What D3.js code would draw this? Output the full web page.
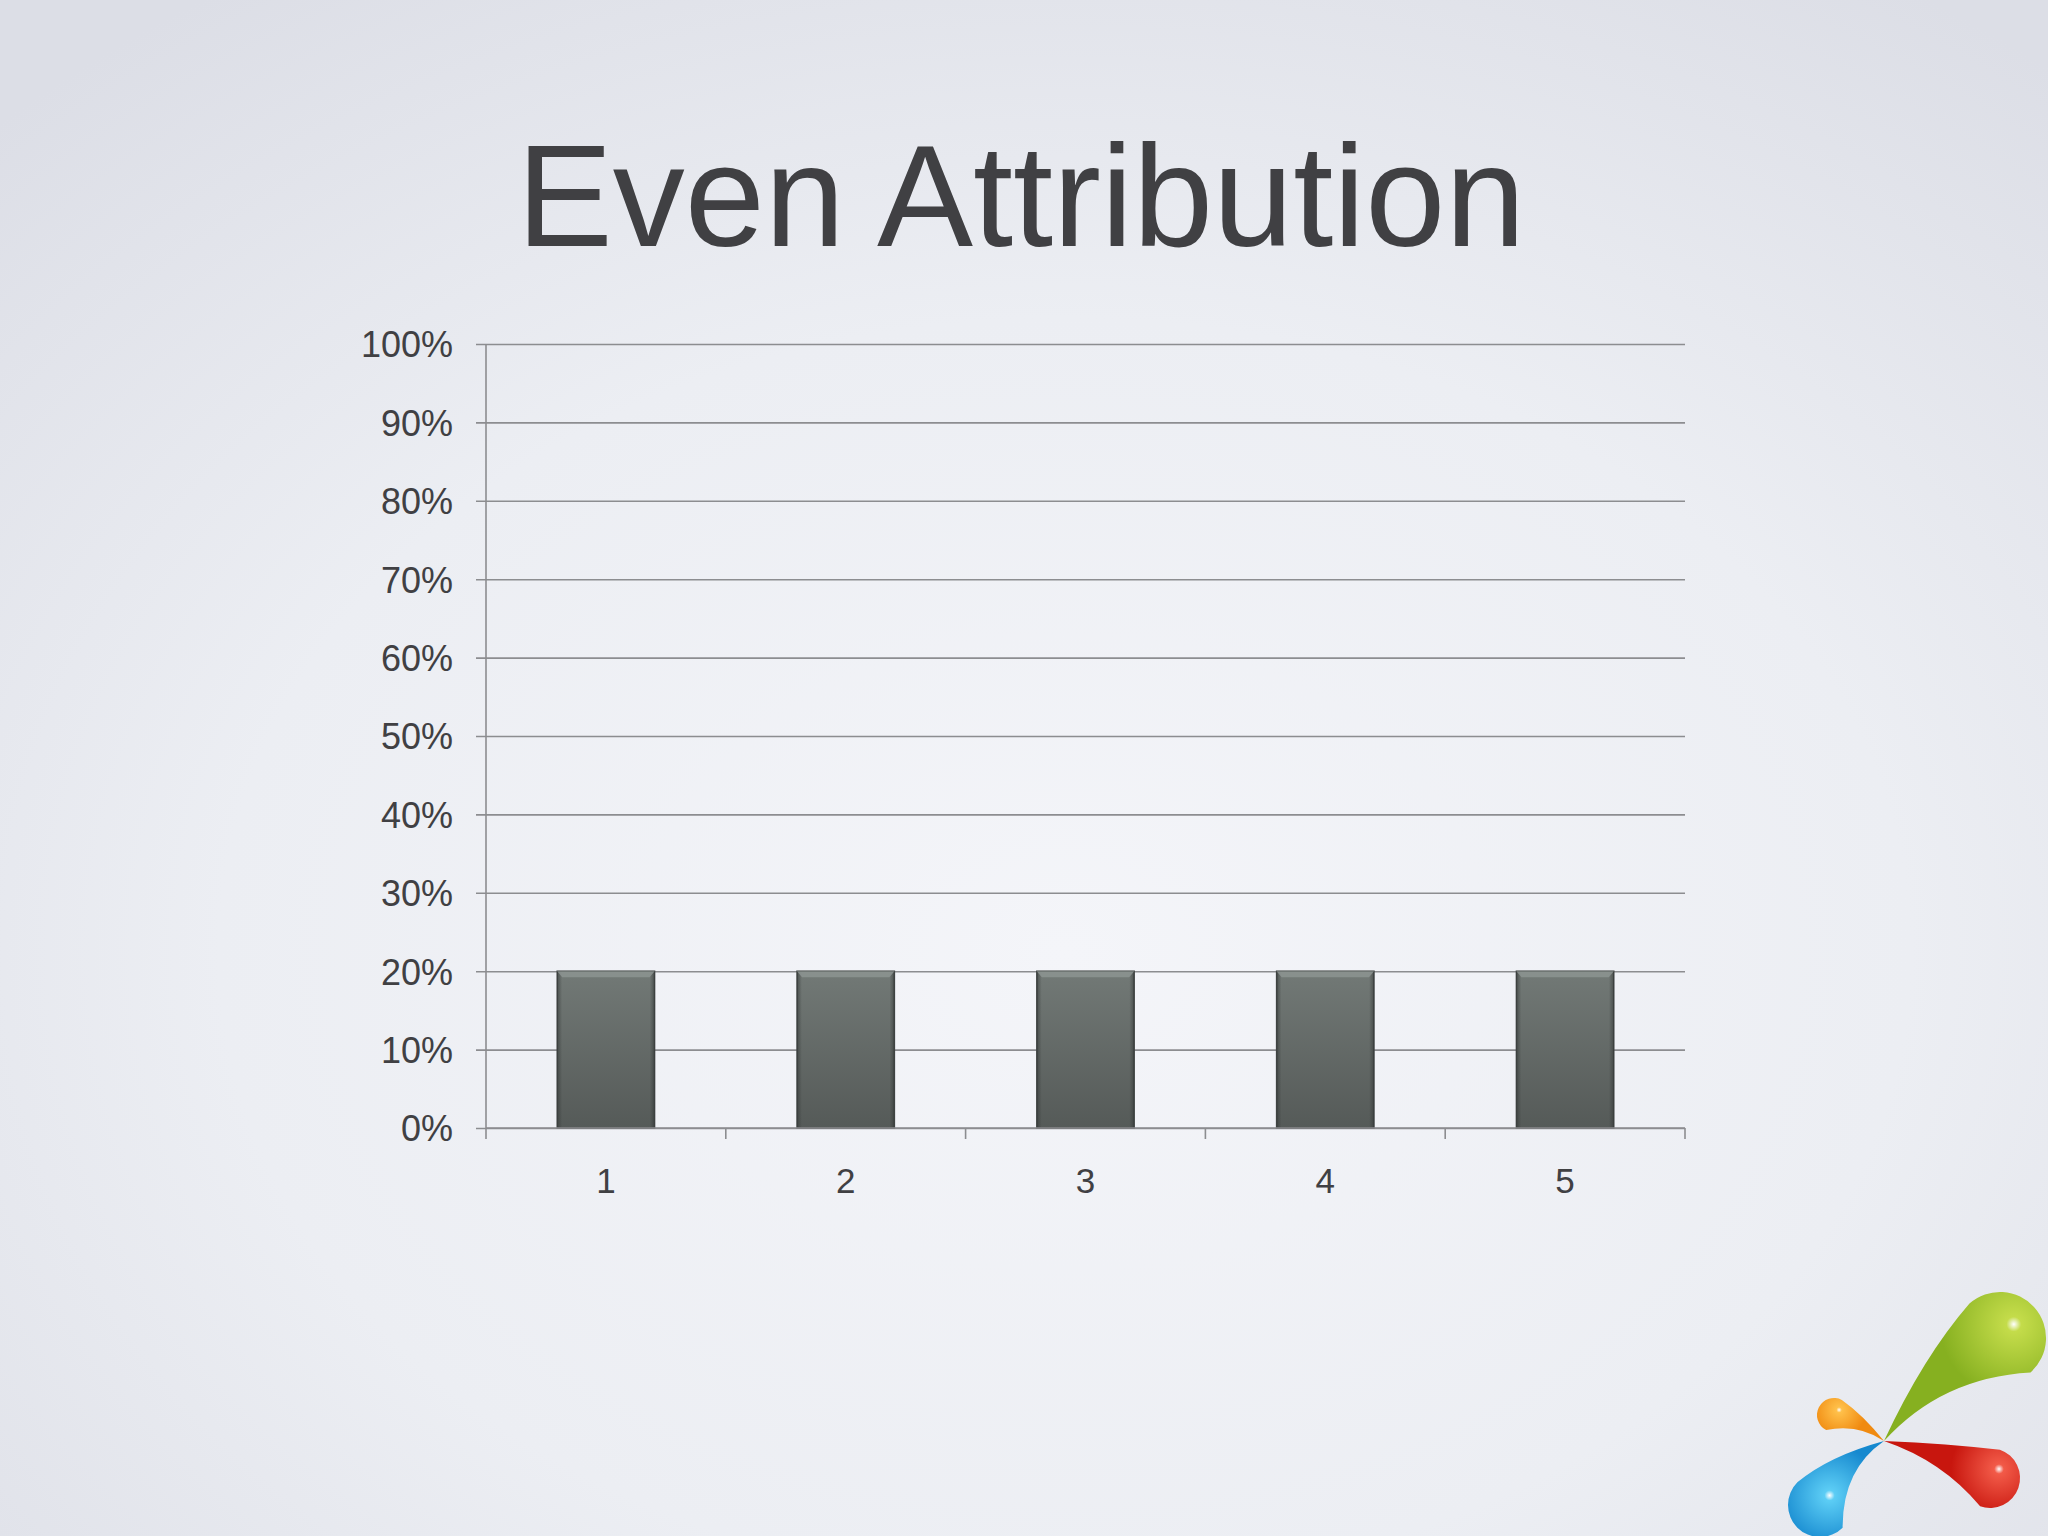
<!DOCTYPE html>
<html>
<head>
<meta charset="utf-8">
<script src="https://cdn.jsdelivr.net/npm/d3@7/dist/d3.min.js"></script>
<style>
  html, body { margin: 0; padding: 0; background: #eceef3; }
  svg { display: block; }
</style>
</head>
<body>
<script>
// ---- data ----
const title = "Even Attribution";
const categories = ["1", "2", "3", "4", "5"];
const values = [0.2, 0.2, 0.2, 0.2, 0.2];
const yTicks = [0, 0.1, 0.2, 0.3, 0.4, 0.5, 0.6, 0.7, 0.8, 0.9, 1.0];

const W = 2048, H = 1536;
const plot = { left: 486, right: 1685, top: 344, bottom: 1128 };

const svg = d3.select("body").append("svg")
  .attr("width", W).attr("height", H);

const defs = svg.append("defs");

// background radial gradient
const bg = defs.append("radialGradient").attr("id", "bg")
  .attr("cx", "52%").attr("cy", "62%").attr("r", "75%");
bg.append("stop").attr("offset", "0%").attr("stop-color", "#f4f5f9");
bg.append("stop").attr("offset", "55%").attr("stop-color", "#eceef3");
bg.append("stop").attr("offset", "100%").attr("stop-color", "#dcdee6");
svg.append("rect").attr("width", W).attr("height", H).attr("fill", "url(#bg)");

// bar gradients
const barV = defs.append("linearGradient").attr("id", "barV")
  .attr("x1", 0).attr("y1", 0).attr("x2", 0).attr("y2", 1);
barV.append("stop").attr("offset", "0%").attr("stop-color", "#727976");
barV.append("stop").attr("offset", "100%").attr("stop-color", "#555a58");
const barH = defs.append("linearGradient").attr("id", "barH")
  .attr("x1", 0).attr("y1", 0).attr("x2", 1).attr("y2", 0);
barH.append("stop").attr("offset", "0%").attr("stop-color", "#2e3231").attr("stop-opacity", 0.55);
barH.append("stop").attr("offset", "5%").attr("stop-color", "#2e3231").attr("stop-opacity", 0.0);
barH.append("stop").attr("offset", "95%").attr("stop-color", "#2e3231").attr("stop-opacity", 0.0);
barH.append("stop").attr("offset", "100%").attr("stop-color", "#2e3231").attr("stop-opacity", 0.55);

// scales
const x = d3.scaleBand().domain(categories)
  .range([plot.left, plot.right]).paddingInner(0.594).paddingOuter(0.297);
const xEdges = d3.scaleLinear().domain([0, categories.length]).range([plot.left, plot.right]);
const y = d3.scaleLinear().domain([0, 1]).range([plot.bottom, plot.top]);

// title
svg.append("text")
  .attr("x", 1021).attr("y", 246)
  .attr("text-anchor", "middle")
  .attr("font-family", "Liberation Sans, Arial, sans-serif")
  .attr("font-size", 144)
  .attr("fill", "#404043")
  .text(title);

// y axis with gridlines
const yAxis = d3.axisLeft(y).tickValues(yTicks).tickFormat(d3.format(".0%"))
  .tickSize(-(plot.right - plot.left + 10)).tickPadding(23);
const gy = svg.append("g").attr("transform", `translate(${plot.left - 10},0)`).call(yAxis);
gy.select(".domain").remove();
gy.selectAll(".tick line").attr("stroke", "#8c8d90").attr("stroke-width", 1.6)
  .attr("x1", 0).attr("x2", plot.right - plot.left + 10);
gy.selectAll(".tick text")
  .attr("font-family", "Liberation Sans, Arial, sans-serif")
  .attr("font-size", 36).attr("fill", "#404043")
  .attr("dy", "0.36em");

// vertical axis line
svg.append("line")
  .attr("x1", plot.left).attr("x2", plot.left)
  .attr("y1", y(1)).attr("y2", plot.bottom)
  .attr("stroke", "#8c8d90").attr("stroke-width", 1.6);

// bars
const bars = svg.append("g");
const barData = categories.map((c, i) => ({ c, v: values[i] }));
bars.selectAll("rect.bar").data(barData).join("rect")
  .attr("class", "bar")
  .attr("x", d => x(d.c)).attr("width", x.bandwidth())
  .attr("y", d => y(d.v)).attr("height", d => y(0) - y(d.v))
  .attr("fill", "url(#barV)")
  .attr("stroke", "#434746").attr("stroke-width", 1.5);
bars.selectAll("rect.side").data(barData).join("rect")
  .attr("class", "side")
  .attr("x", d => x(d.c)).attr("width", x.bandwidth())
  .attr("y", d => y(d.v)).attr("height", d => y(0) - y(d.v))
  .attr("fill", "url(#barH)");
bars.selectAll("path.bevel").data(barData).join("path")
  .attr("class", "bevel")
  .attr("d", d => {
    const x0 = x(d.c), x1 = x0 + x.bandwidth(), yt = y(d.v);
    return `M${x0},${yt} L${x1},${yt} L${x1 - 5},${yt + 6} L${x0 + 5},${yt + 6} Z`;
  })
  .attr("fill", "#8f9693").attr("opacity", 0.8);

// x axis
svg.append("line")
  .attr("x1", plot.left).attr("x2", plot.right)
  .attr("y1", plot.bottom).attr("y2", plot.bottom)
  .attr("stroke", "#8c8d90").attr("stroke-width", 1.6);
svg.append("g").selectAll("line")
  .data(d3.range(categories.length + 1)).join("line")
  .attr("x1", d => xEdges(d)).attr("x2", d => xEdges(d))
  .attr("y1", plot.bottom).attr("y2", plot.bottom + 11)
  .attr("stroke", "#8c8d90").attr("stroke-width", 1.6);
svg.append("g").selectAll("text")
  .data(categories).join("text")
  .attr("x", d => x(d) + x.bandwidth() / 2)
  .attr("y", 1193)
  .attr("text-anchor", "middle")
  .attr("font-family", "Liberation Sans, Arial, sans-serif")
  .attr("font-size", 35).attr("fill", "#404043")
  .text(d => d);

// decorative logo (bottom right)
const logoCenter = [1884, 1441];
const drops = [
  { b: [2000, 1338], r: 46, bend: -30, c1: "#c4dc4a", c2: "#86b020" },
  { b: [1834, 1415], r: 17, bend: 6, c1: "#ffc04a", c2: "#f08a10" },
  { b: [1990, 1478], r: 30, bend: -14, c1: "#f25a48", c2: "#c8160e" },
  { b: [1820, 1505], r: 32, bend: 14, c1: "#5ccdf5", c2: "#1689cf" }
];
drops.forEach((d, i) => {
  const g = defs.append("radialGradient").attr("id", "drop" + i)
    .attr("gradientUnits", "userSpaceOnUse")
    .attr("cx", d.b[0] + d.r * 0.3).attr("cy", d.b[1] - d.r * 0.3).attr("r", d.r * 1.6);
  g.append("stop").attr("offset", "0%").attr("stop-color", "#ffffff");
  g.append("stop").attr("offset", "10%").attr("stop-color", d.c1);
  g.append("stop").attr("offset", "100%").attr("stop-color", d.c2);
});
const logo = svg.append("g");
drops.forEach((d, i) => {
  const [cx, cy] = logoCenter, [bx, by] = d.b;
  const dx = bx - cx, dy = by - cy, len = Math.hypot(dx, dy);
  const ux = dx / len, uy = dy / len, px = -uy, py = ux;
  const t1 = [bx + px * d.r, by + py * d.r], t2 = [bx - px * d.r, by - py * d.r];
  const mx = cx + dx * 0.55 + px * d.bend, my = cy + dy * 0.55 + py * d.bend;
  const path = `M${cx},${cy} Q${mx + px * d.r * 0.45},${my + py * d.r * 0.45} ${t1[0]},${t1[1]}` +
    ` A${d.r},${d.r} 0 1 0 ${t2[0]},${t2[1]}` +
    ` Q${mx - px * d.r * 0.15},${my - py * d.r * 0.15} ${cx},${cy} Z`;
  logo.append("path").attr("d", path).attr("fill", `url(#drop${i})`);
});
</script>
</body>
</html>
